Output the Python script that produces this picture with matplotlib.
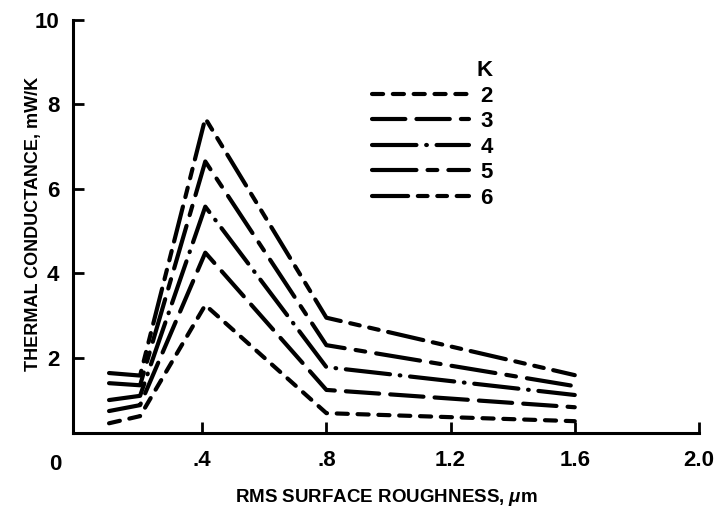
import matplotlib
matplotlib.use("Agg")
import matplotlib.pyplot as plt

plt.rcParams['font.family'] = ['Liberation Sans', 'DejaVu Sans']
plt.rcParams['font.weight'] = 'bold'
plt.rcParams['mathtext.fontset'] = 'custom'
plt.rcParams['mathtext.it'] = 'Liberation Sans:italic:bold'
plt.rcParams['lines.scale_dashes'] = False

# roughness (um) and conductance (mW/K) for each temperature
roughness = [0.10, 0.20, 0.41, 0.80, 1.60]
temps = ["2", "3", "4", "5", "6"]
g_2K = [0.45, 0.62, 3.25, 0.69, 0.50]
g_3K = [0.74, 0.88, 4.49, 1.24, 0.83]
g_4K = [1.00, 1.10, 5.58, 1.78, 1.12]
g_5K = [1.40, 1.35, 6.65, 2.30, 1.33]
g_6K = [1.64, 1.58, 7.67, 2.95, 1.59]

xtick_vals = [0.4, 0.8, 1.2, 1.6, 2.0]
xtick_txt = [".4", ".8", "1.2", "1.6", "2.0"]
ytick_vals = [2, 4, 6, 8, 10]

series = [g_2K, g_3K, g_4K, g_5K, g_6K]
styles = [(0, (8, 7)),
          (0, (24, 8)),
          (0, (32, 7, 0.5, 7)),
          (0, (32, 8, 7, 8)),
          (0, (26, 7, 7, 7, 7, 7))]

fig = plt.figure(figsize=(7.18, 5.19), dpi=100)
ax = fig.add_axes([0.1017, 0.1657, 0.8718, 0.7958])

for vals, t, ls in zip(series, temps, styles):
    ax.plot(roughness, vals, color='black', lw=3.0, linestyle=ls,
            dash_capstyle='round', solid_capstyle='round', label=t)

ax.set_xlim(-0.016, 2.0)
ax.set_ylim(0.22, 10)
ax.set_xticks(xtick_vals)
ax.set_xticklabels(xtick_txt)
ax.set_yticks(ytick_vals)

for s in ['top', 'right']:
    ax.spines[s].set_visible(False)
for s in ['left', 'bottom']:
    ax.spines[s].set_linewidth(2.2)

ax.tick_params(axis='both', direction='in', width=2, labelsize=16)
ax.tick_params(axis='x', length=8, pad=12)
ax.tick_params(axis='y', length=8, pad=10)

# lone zero at the corner
ax.text(-0.029, -0.077, "0", transform=ax.transAxes, ha='center', va='center',
        fontsize=16, fontweight='bold')

ax.set_xlabel("RMS SURFACE ROUGHNESS, $\\mu$m", fontsize=13.5, fontweight='bold',
              va='center')
ax.set_ylabel("THERMAL CONDUCTANCE, mW/K", fontsize=13, fontweight='bold',
              va='center')
ax.xaxis.set_label_coords(0.5, -0.155)
ax.yaxis.set_label_coords(-0.063, 0.507)

leg = ax.legend(title="K", loc='upper left', bbox_to_anchor=(0.452, 0.94),
                frameon=False, fontsize=16, title_fontproperties={'size': 16, 'weight': 'bold'},
                handlelength=4.4, labelspacing=0.2, handletextpad=0.5,
                borderpad=0.2, alignment='right')

fig.savefig("out.png", dpi=100)
